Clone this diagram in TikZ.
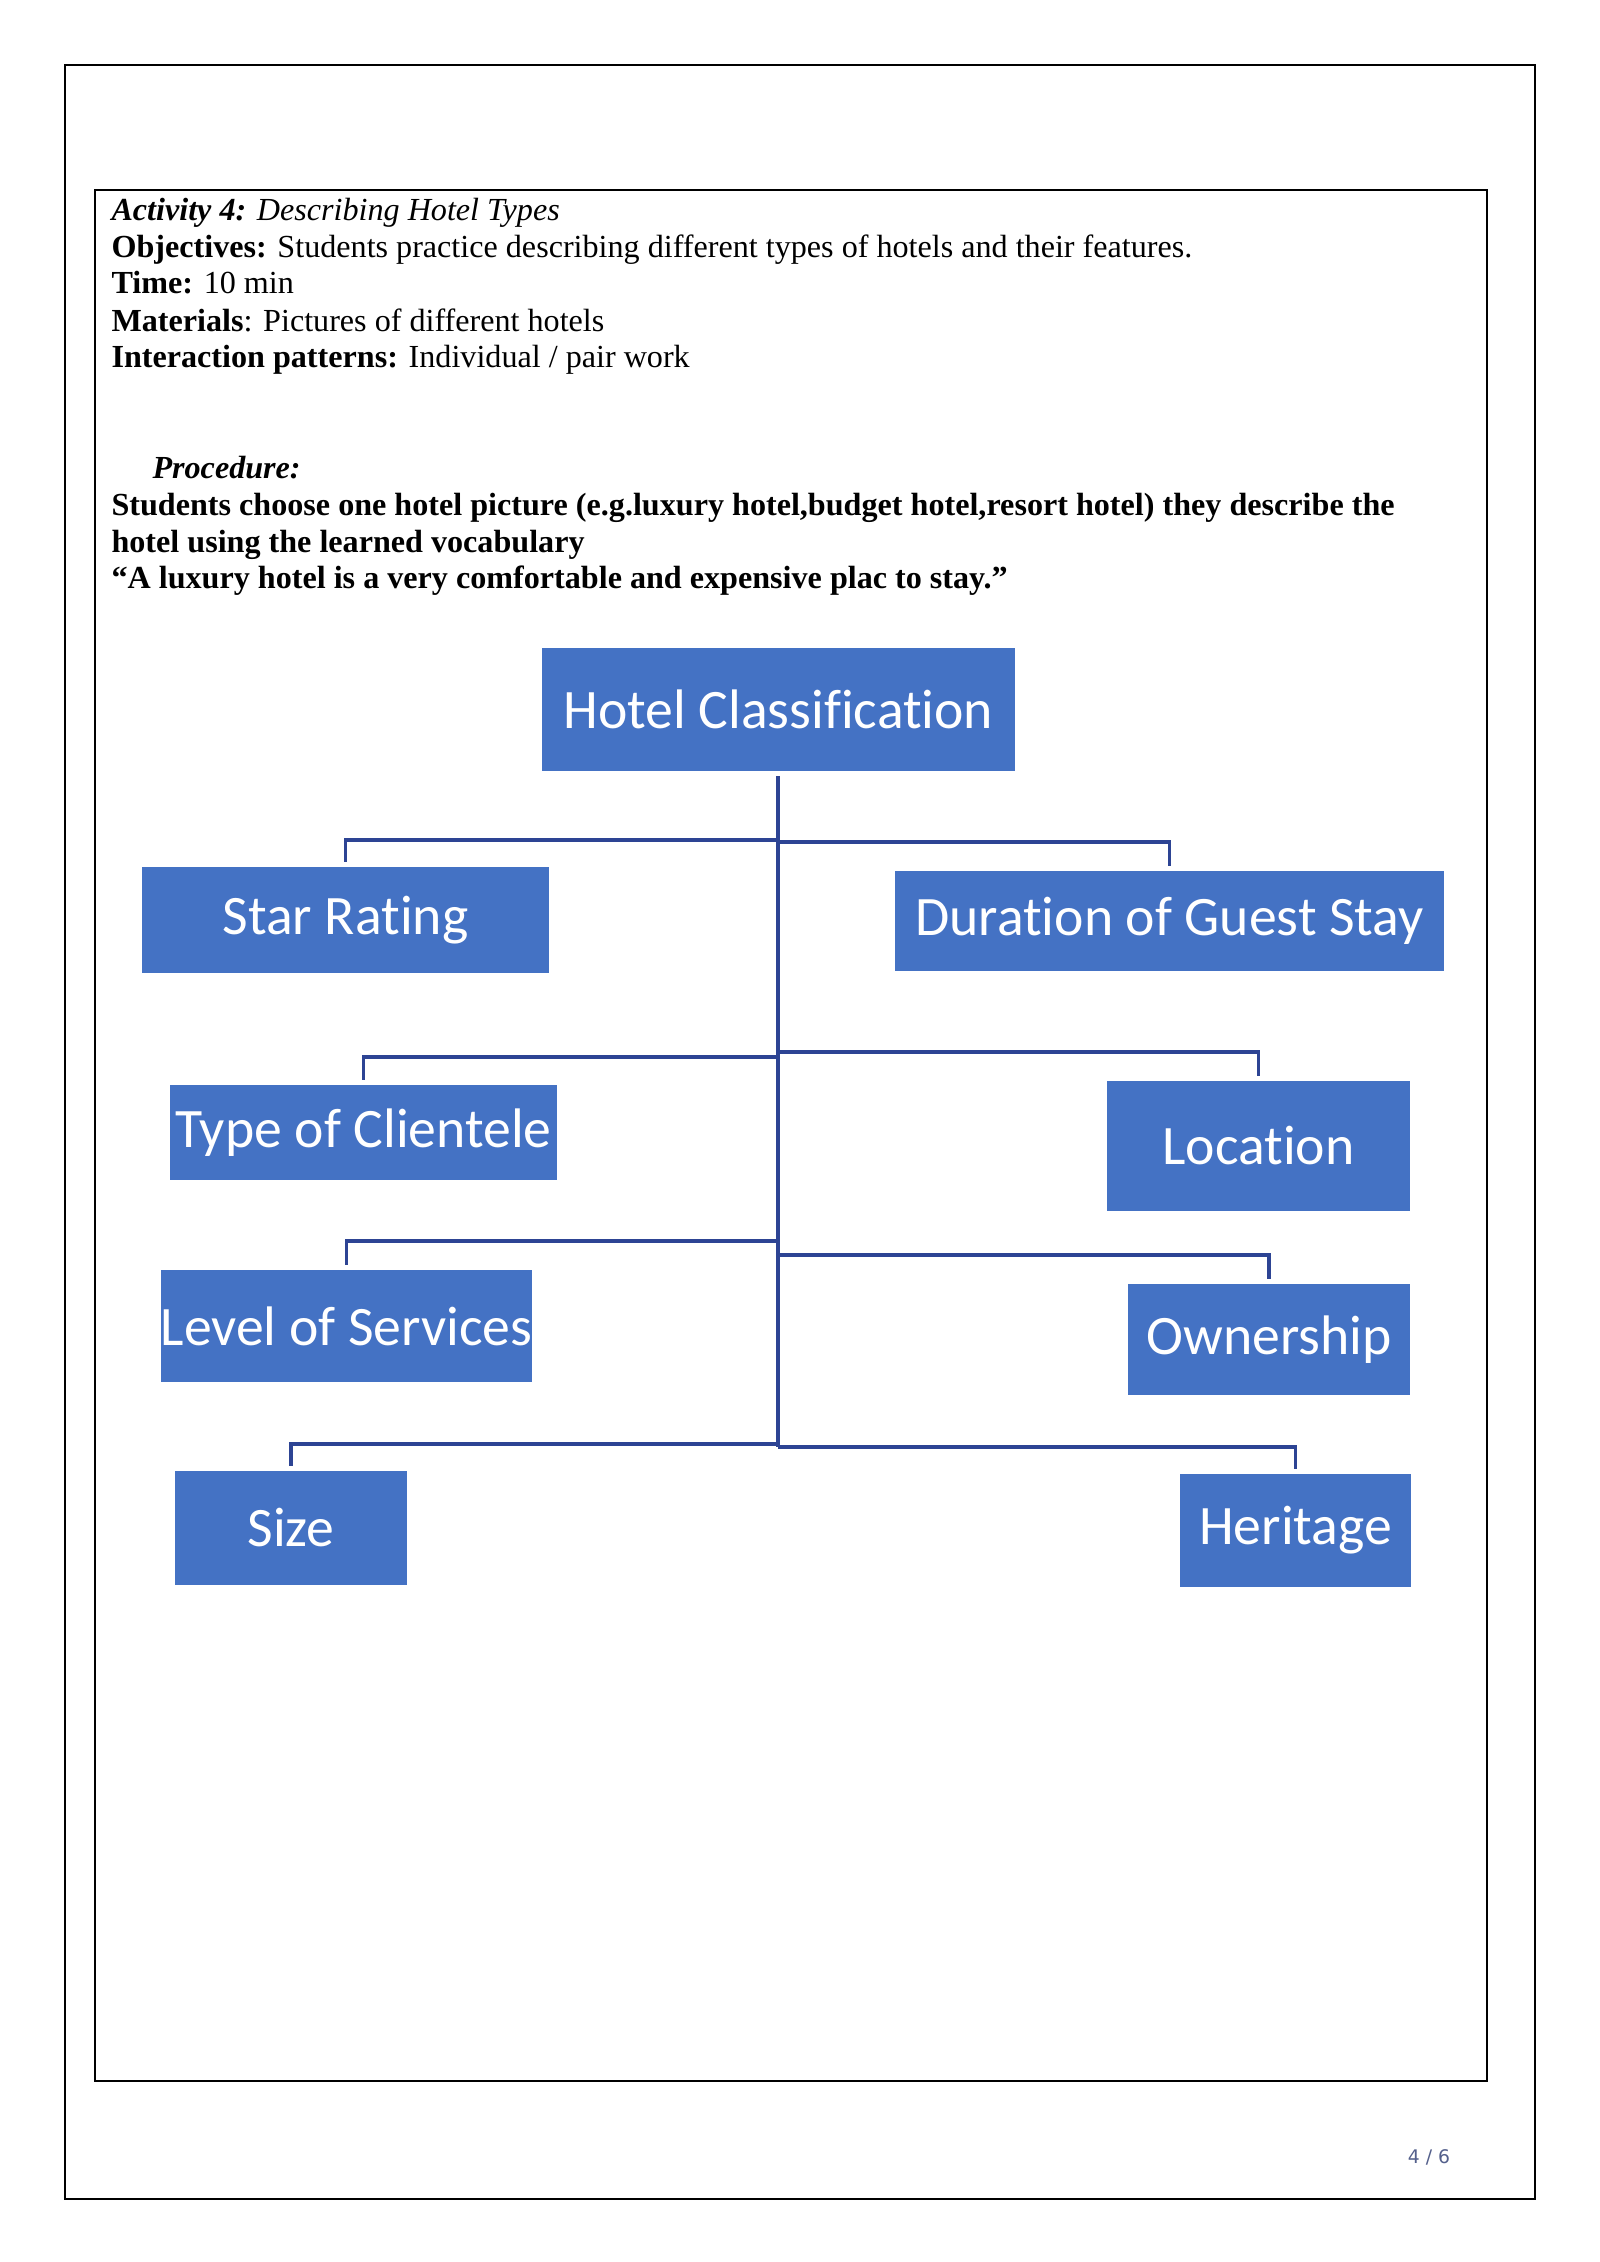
\documentclass[tikz,border=0pt]{standalone}
\usepackage{fontspec}
\setmainfont{Liberation Serif}
\newfontfamily\boxfont[Ligatures=NoCommon]{Carlito}
\newfontfamily\pagefont{DejaVu Sans}
\usepackage{xcolor}
\usepackage{tikz}
\usetikzlibrary{calc}

\newcommand{\hpx}{0.13125mm}
\definecolor{boxblue}{RGB}{68,114,196}
\definecolor{linkblue}{RGB}{45,68,148}
\definecolor{pagegray}{RGB}{84,96,140}

\tikzset{
  cat/.style={rectangle,fill=boxblue,text=white,inner sep=0pt,font=\boxfont\fontsize{20.8}{24}\selectfont},
  branch/.style={draw=linkblue,line width=1.4pt,shorten >=0.6mm},
  line/.style={anchor=base west,inner sep=0pt,font=\fontsize{12}{14}\selectfont}
}

\begin{document}
\begin{tikzpicture}[x=\hpx,y=-\hpx]
			\useasboundingbox (0,0) rectangle (1600,2262);
			\fill [white] (0,0) rectangle (1600,2262);
			\draw [line width=0.6pt] (65,65) rectangle (1535,2199);
			\draw [line width=0.6pt] (95,190) rectangle (1487,2081);
			\node [line] (act) at (111,220) {\textbf{\textit{Activity 4:}} \textit{Describing Hotel Types}};
			\node [line] (obj) at (111,257) {\textbf{Objectives:} Students practice describing different types of hotels and their features.};
			\node [line] (time) at (111,293) {\textbf{Time:} 10 min};
			\node [line] (mat) at (111,331) {\textbf{Materials}: Pictures of different hotels};
			\node [line] (inter) at (111,367) {\textbf{Interaction patterns:} Individual / pair work};
			\node [line] (proc) at (152,478) {\textbf{\textit{Procedure:}}};
			\node [line] (stud) at (111,515) {\textbf{Students choose one hotel picture (e.g.luxury hotel,budget hotel,resort hotel) they describe the}};
			\node [line] (voc) at (111,552) {\textbf{hotel using the learned vocabulary}};
			\node [line] (quote) at (111,588) {\textbf{“A luxury hotel is a very comfortable and expensive plac to stay.”}};
			\node [cat,minimum width=473*\hpx,minimum height=123*\hpx] (hotel) at (778.5,709.5) {Hotel Classification};
			\node [cat,minimum width=407*\hpx,minimum height=106*\hpx] (star) at (345.5,920) {Star Rating};
			\node [cat,minimum width=549*\hpx,minimum height=100*\hpx] (stay) at (1169.5,921) {Duration of Guest Stay};
			\node [cat,minimum width=387*\hpx,minimum height=95*\hpx] (client) at (363.5,1132.5) {Type of Clientele};
			\node [cat,minimum width=303*\hpx,minimum height=130*\hpx] (loc) at (1258.5,1146) {Location};
			\node [cat,minimum width=367*\hpx,minimum height=112*\hpx] (serv) at (346.5,1326) {Level of Services};
			\node [cat,minimum width=282*\hpx,minimum height=111*\hpx] (own) at (1269,1339.5) {Ownership};
			\node [cat,minimum width=232*\hpx,minimum height=114*\hpx] (size) at (291,1528) {Size};
			\node [cat,minimum width=231*\hpx,minimum height=113*\hpx] (herit) at (1295.5,1530.5) {Heritage};
			\coordinate (top) at (778,776);
			\coordinate (bottom) at (778,1447);
			\coordinate (b1l) at (778,840);
			\coordinate (b1r) at (778,842);
			\coordinate (b2l) at (778,1057);
			\coordinate (b2r) at (778,1052);
			\coordinate (b3l) at (778,1241);
			\coordinate (b3r) at (778,1255);
			\coordinate (b4l) at (778,1444);
			\coordinate (b4r) at (778,1447);
			\draw [branch,shorten >=0pt,line width=1.8pt] (top) -- (bottom);
			\draw [branch] (b1l) -| (star.north);
			\draw [branch] (b1r) -| (stay.north);
			\draw [branch] (b2l) -| (client.north);
			\draw [branch] (b2r) -| (loc.north);
			\draw [branch] (b3l) -| (serv.north);
			\draw [branch] (b3r) -| (own.north);
			\draw [branch] (b4l) -| (size.north);
			\draw [branch] (b4r) -| (herit.north);
			\node [text=pagegray,font=\pagefont\fontsize{7}{8}\selectfont] (page) at (1429,2157) {4 / 6};
\end{tikzpicture}
\end{document}
